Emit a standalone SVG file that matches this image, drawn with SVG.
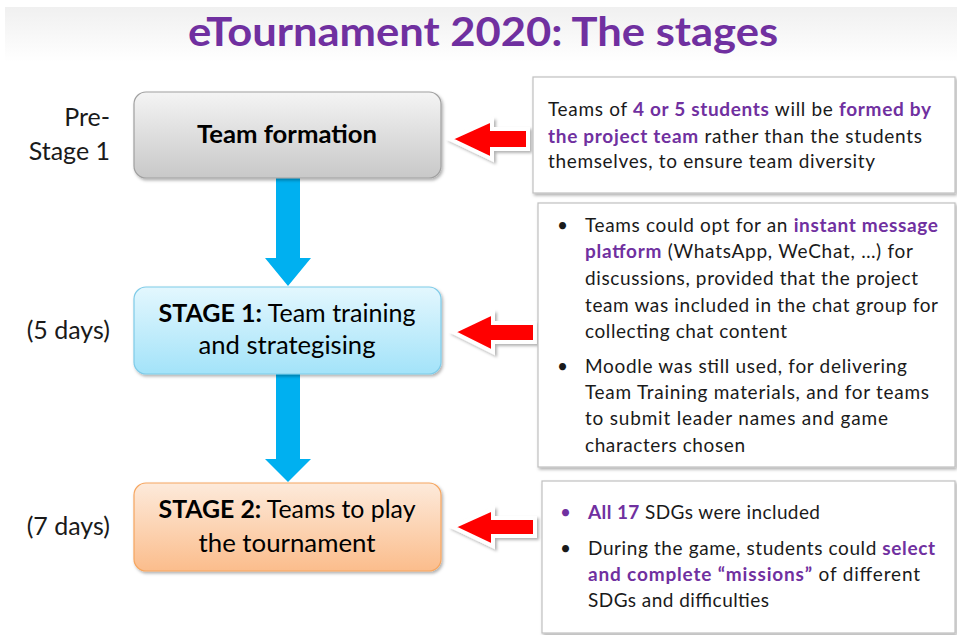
<svg xmlns="http://www.w3.org/2000/svg" width="957" height="635" viewBox="0 0 957 635">
<style>
.t{font-family:Lato,"Open Sans","Liberation Sans",sans-serif;fill:#1a1a1a}
.b{font-weight:bold}
.p{fill:#7030A0;font-weight:bold}
.lbl{font-size:25px;text-anchor:end}
.node{font-size:24.5px;text-anchor:middle;fill:#000}
.body{font-size:19px}
.box{fill:#fff;stroke:#c0c0c0;stroke-width:1.2;filter:url(#sh)}
.red{fill:#ff0000;stroke:#fff;stroke-width:4;stroke-linejoin:miter;filter:url(#sh2)}
.blue{fill:#00b0f0}
</style>
<defs>
<linearGradient id="gTop" x1="0" y1="0" x2="0" y2="1"><stop offset="0" stop-color="#f0f0f0"/><stop offset="1" stop-color="#ffffff"/></linearGradient>
<linearGradient id="gGray" x1="0" y1="0" x2="0" y2="1"><stop offset="0" stop-color="#f4f4f4"/><stop offset="1" stop-color="#c8c8c8"/></linearGradient>
<linearGradient id="gBlue" x1="0" y1="0" x2="0" y2="1"><stop offset="0" stop-color="#e3f7fe"/><stop offset="1" stop-color="#a3e3f9"/></linearGradient>
<linearGradient id="gOr" x1="0" y1="0" x2="0" y2="1"><stop offset="0" stop-color="#fdeadb"/><stop offset="1" stop-color="#fbbd8c"/></linearGradient>
<filter id="sh" x="-5%" y="-5%" width="115%" height="115%"><feDropShadow dx="1.5" dy="2" stdDeviation="1.5" flood-color="#000" flood-opacity="0.3"/></filter>
<filter id="sh2" x="-10%" y="-10%" width="130%" height="130%"><feDropShadow dx="2" dy="2" stdDeviation="1.5" flood-color="#000" flood-opacity="0.3"/></filter>
</defs>
<rect x="0" y="0" width="957" height="635" fill="#fff"/>
<rect x="5" y="7" width="952" height="55" fill="url(#gTop)"/>
<text class="t b" x="483" y="46" font-size="41" text-anchor="middle" style="fill:#7030A0" textLength="590" lengthAdjust="spacingAndGlyphs">eTournament 2020: The stages</text>

<g id="connectors">
<polygon class="blue" points="276,178 300,178 300,258 311,258 288,286 265,258 276,258"/>
<polygon class="blue" points="276,374 300,374 300,459 311,459 288,482 265,459 276,459"/>
<polygon class="red" points="528,129 492,129 492,120 450,139 492,159 492,149 528,149"/>
<polygon class="red" points="535,323 493,323 493,313 453,332 493,352 493,342 535,342"/>
<polygon class="red" points="535,518 493,518 493,509 453,527 493,546 493,536 535,536"/>
</g>

<g id="label-prestage">
<text class="t lbl" x="110" y="126">Pre-</text>
<text class="t lbl" x="110" y="160">Stage 1</text>
</g>
<g id="label-5days"><text class="t lbl" x="110" y="339">(5 days)</text></g>
<g id="label-7days"><text class="t lbl" x="110" y="535">(7 days)</text></g>

<g id="node-team-formation">
<rect x="134" y="92" width="307" height="86" rx="12" fill="url(#gGray)" stroke="#a0a0a0" stroke-width="1.2" filter="url(#sh)"/>
<text class="t node b" x="287" y="143" textLength="180" lengthAdjust="spacingAndGlyphs">Team formation</text>
</g>
<g id="node-stage1">
<rect x="134" y="287" width="307" height="87" rx="12" fill="url(#gBlue)" stroke="#7fcbe8" stroke-width="1.2" filter="url(#sh)"/>
<text class="t node" x="287" y="322" textLength="257" lengthAdjust="spacingAndGlyphs"><tspan class="b">STAGE 1:</tspan> Team training</text>
<text class="t node" x="287" y="354" textLength="177" lengthAdjust="spacingAndGlyphs">and strategising</text>
</g>
<g id="node-stage2">
<rect x="134" y="483" width="307" height="88" rx="12" fill="url(#gOr)" stroke="#f6a660" stroke-width="1.2" filter="url(#sh)"/>
<text class="t node" x="287" y="518" textLength="257" lengthAdjust="spacingAndGlyphs"><tspan class="b">STAGE 2:</tspan> Teams to play</text>
<text class="t node" x="287" y="552" textLength="177" lengthAdjust="spacingAndGlyphs">the tournament</text>
</g>

<g id="note-team-formation">
<rect class="box" x="533" y="77" width="422" height="116"/>
<text class="t body" x="548" y="116" textLength="383">Teams of <tspan class="p">4 or 5 students</tspan> will be <tspan class="p">formed by</tspan></text>
<text class="t body" x="548" y="143" textLength="374"><tspan class="p">the project team</tspan> rather than the students</text>
<text class="t body" x="548" y="168" textLength="327">themselves, to ensure team diversity</text>
</g>

<g id="note-stage1">
<rect class="box" x="538" y="203" width="417" height="264"/>
<text class="t body" x="557" y="232">•</text>
<text class="t body" x="585" y="232" textLength="353">Teams could opt for an <tspan class="p">instant message</tspan></text>
<text class="t body" x="585" y="258" textLength="328"><tspan class="p">platform</tspan> (WhatsApp, WeChat, …) for</text>
<text class="t body" x="585" y="285" textLength="333">discussions, provided that the project</text>
<text class="t body" x="585" y="312" textLength="353">team was included in the chat group for</text>
<text class="t body" x="585" y="338" textLength="202">collecting chat content</text>
<text class="t body" x="557" y="373">•</text>
<text class="t body" x="585" y="373" textLength="322">Moodle was still used, for delivering</text>
<text class="t body" x="585" y="399" textLength="344">Team Training materials, and for teams</text>
<text class="t body" x="585" y="425" textLength="303">to submit leader names and game</text>
<text class="t body" x="585" y="452" textLength="160">characters chosen</text>
</g>

<g id="note-stage2">
<rect class="box" x="542" y="481" width="413" height="152"/>
<text class="t body" x="560" y="519" style="fill:#7030A0">•</text>
<text class="t body" x="588" y="519" textLength="232"><tspan class="p">All 17</tspan> SDGs were included</text>
<text class="t body" x="560" y="555">•</text>
<text class="t body" x="588" y="555" textLength="347">During the game, students could <tspan class="p">select</tspan></text>
<text class="t body" x="588" y="581" textLength="332"><tspan class="p">and complete “missions”</tspan> of different</text>
<text class="t body" x="588" y="607" textLength="181">SDGs and difficulties</text>
</g>
</svg>
